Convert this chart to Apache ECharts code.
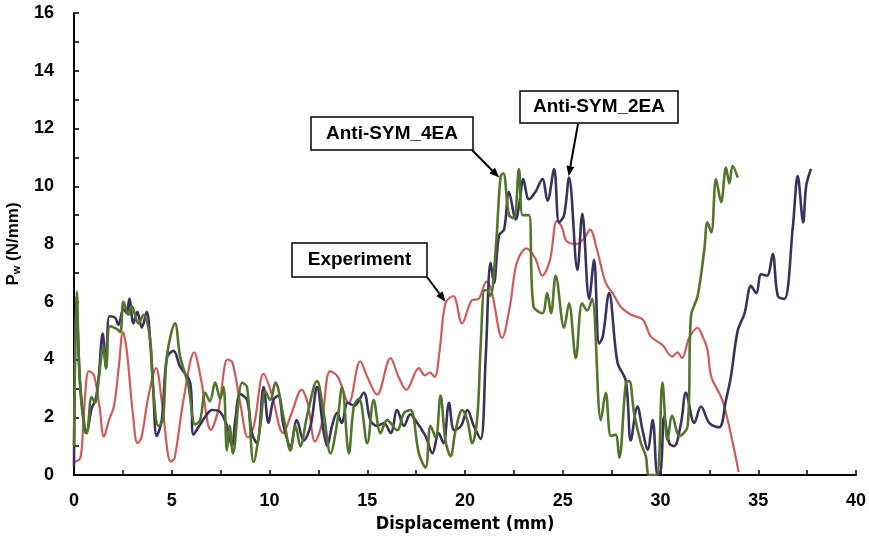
<!DOCTYPE html>
<html>
<head>
<meta charset="utf-8">
<script src="https://cdn.jsdelivr.net/npm/echarts@6/dist/echarts.min.js"></script>
<style>
  html, body { margin: 0; padding: 0; background: #fff; }
  #chart-container { width: 869px; height: 542px; }
</style>
</head>
<body>
<div id="chart-container"></div>
<script>
// values: [displacement (mm), Pw (N/mm)]
var experiment = [
  [0,0.45],[0.33,0.6],[0.5,2.1],[0.76,3.6],[1.02,3.45],[1.3,2.4],[1.53,1.33],[1.79,1.9],[2.05,2.4],
  [2.3,3.8],[2.5,4.95],[2.7,4.3],[3.0,2.2],[3.25,1.1],[3.45,1.3],[3.8,2.7],[4.2,3.7],[4.5,2.5],
  [4.95,0.46],[5.15,0.6],[5.6,2.6],[6.15,4.25],[6.5,3.3],[7.0,1.56],[7.4,2.3],[7.85,4.0],[8.1,3.9],
  [8.5,2.5],[8.9,1.3],[9.2,1.7],[9.7,3.5],[10.1,2.84],[10.7,1.45],[11.13,2.14],[11.64,2.95],
  [11.95,2.5],[12.33,1.16],[12.65,1.7],[13.1,3.6],[13.5,3.4],[14.05,2.49],[14.64,3.94],[15.0,3.4],
  [15.5,2.78],[16.19,4.05],[16.6,3.4],[17.0,2.95],[17.64,3.7],[17.95,3.45],[18.2,3.55],[18.45,3.4],
  [18.7,4.3],[19.0,5.95],[19.4,6.2],[19.85,5.25],[20.35,6.05],[20.7,6.1],[21.1,6.7],[21.35,6.4],
  [21.9,4.75],[22.3,5.85],[22.65,7.35],[23.15,7.85],[23.6,7.5],[23.95,6.9],[24.35,7.45],[24.7,8.8],
  [24.95,8.6],[25.2,8.1],[25.7,8.0],[26.1,8.2],[26.4,8.5],[26.75,7.8],[27.2,6.65],[27.55,6.3],
  [28.0,5.8],[28.5,5.55],[29.1,5.38],[29.5,4.8],[30.1,4.5],[30.6,4.1],[30.87,4.25],[31.1,4.05],
  [31.47,4.75],[31.9,5.1],[32.15,4.8],[32.4,4.35],[32.6,3.4],[33.1,2.7],[33.35,2.15],[33.7,1.1],[34.0,0.1]
];

var antiSym2EA = [
  [0,0.3],[0.12,6.2],[0.3,3.3],[0.55,1.6],[0.65,1.55],[0.9,2.3],[1.1,2.6],[1.25,3.3],[1.47,4.9],
  [1.64,3.7],[1.81,5.5],[2.1,5.45],[2.27,5.2],[2.53,5.75],[2.7,5.6],[2.83,6.1],[3.04,5.25],[3.24,5.65],
  [3.47,5.1],[3.72,5.65],[3.89,4.7],[4.05,3.0],[4.23,1.35],[4.49,1.9],[4.75,4.05],[5.09,4.3],[5.43,3.75],
  [5.94,3.2],[6.11,1.4],[6.45,1.75],[6.8,2.1],[7.05,2.25],[7.45,2.2],[7.82,1.7],[8.08,1.0],[8.25,1.9],
  [8.5,2.8],[8.85,2.6],[9.1,1.45],[9.36,1.1],[9.7,3.05],[9.95,1.8],[10.2,2.6],[10.45,2.75],[10.72,1.7],
  [11.07,1.0],[11.4,1.9],[11.75,1.2],[12.1,1.7],[12.43,3.05],[12.77,1.5],[12.95,1.0],[13.2,1.7],
  [13.46,2.15],[13.7,1.8],[14.0,2.5],[14.35,2.4],[14.82,2.85],[15.16,1.9],[15.5,1.7],[15.85,1.8],
  [16.2,1.45],[16.53,2.25],[16.88,1.7],[17.2,2.1],[17.56,1.8],[17.98,1.35],[18.33,0.75],[18.65,1.45],
  [18.9,1.1],[19.18,2.5],[19.45,1.55],[19.8,1.7],[20.12,2.25],[20.45,1.7],[20.8,1.25],[21.06,4.1],
  [21.31,7.35],[21.48,6.65],[21.74,8.3],[22.0,8.5],[22.25,9.8],[22.6,8.85],[22.8,9.5],[22.98,10.25],
  [23.27,9.55],[23.6,9.8],[23.96,10.25],[24.22,9.5],[24.56,10.6],[24.81,8.75],[25.07,9.0],[25.32,10.3],
  [25.75,7.1],[26.0,9.05],[26.35,6.1],[26.6,7.45],[26.86,4.55],[27.05,4.8],[27.37,6.3],[27.8,3.9],
  [28.23,3.25],[28.48,1.2],[28.82,2.37],[29.08,1.56],[29.34,0.87],[29.6,1.9],[29.85,0],[30.02,0.17],
  [30.19,2.03],[30.45,1.1],[30.7,1.0],[31.05,1.8],[31.3,2.85],[31.73,1.8],[32.07,2.37],[32.5,1.8],
  [33.0,1.65],[33.35,2.6],[33.6,3.4],[33.95,5.0],[34.3,5.6],[34.63,6.55],[34.9,6.3],[35.15,6.95],
  [35.45,6.9],[35.74,7.65],[36.0,6.2],[36.34,6.1],[36.77,8.6],[37.02,10.35],[37.3,8.75],[37.45,10.0],[37.7,10.6]
];

var antiSym4EA = [
  [0,1.0],[0.14,6.35],[0.3,3.2],[0.55,1.5],[0.65,1.45],[0.9,2.7],[1.08,2.5],[1.25,3.25],[1.5,4.45],
  [1.64,3.7],[1.84,5.15],[2.2,5.05],[2.37,4.95],[2.53,6.0],[2.78,5.55],[2.95,5.85],[3.3,5.25],[3.55,5.55],
  [3.89,4.7],[4.05,3.0],[4.32,1.7],[4.55,1.9],[4.75,4.1],[5.17,5.25],[5.43,4.1],[5.85,3.1],[6.2,1.75],
  [6.45,1.9],[6.71,2.85],[6.95,2.55],[7.22,3.2],[7.48,2.65],[7.65,3.05],[7.82,0.85],[7.96,1.7],[8.13,0.75],
  [8.6,3.2],[8.85,3.05],[9.19,0.45],[9.53,1.7],[9.78,2.9],[10.04,2.6],[10.3,3.2],[10.72,2.0],[11.07,0.85],
  [11.33,1.7],[11.58,1.0],[11.92,2.05],[12.43,3.25],[12.77,2.15],[13.12,0.75],[13.46,1.8],[13.71,3.05],
  [14.06,0.75],[14.32,2.4],[14.58,2.65],[15.0,1.1],[15.33,2.6],[15.68,1.45],[16.02,1.9],[16.53,1.55],
  [16.88,2.15],[17.21,2.25],[17.64,0.75],[17.98,0.25],[18.24,1.7],[18.5,1.3],[18.75,2.75],[19.0,1.2],
  [19.26,0.65],[19.52,1.55],[19.86,2.25],[20.12,1.9],[20.37,1.1],[20.63,2.0],[20.8,4.45],[21.0,6.4],
  [21.14,6.4],[21.3,6.2],[21.57,7.8],[21.82,10.35],[21.96,10.45],[22.25,9.0],[22.5,8.9],[22.76,10.6],
  [22.95,9.0],[23.27,9.0],[23.5,5.85],[23.96,5.6],[24.2,6.3],[24.4,5.6],[24.64,6.9],[25.07,5.1],
  [25.32,5.95],[25.67,4.05],[25.99,5.95],[26.25,5.7],[26.5,6.1],[26.95,1.9],[27.2,2.85],[27.46,1.35],
  [27.7,1.4],[27.89,0.6],[28.23,3.2],[28.4,3.25],[28.65,2.14],[29.0,1.1],[29.25,0.65],[29.42,0],
  [29.8,0],[30.1,3.2],[30.36,1.2],[30.6,2.05],[30.97,1.35],[31.39,1.7],[31.56,5.5],[31.9,6.2],
  [32.24,7.8],[32.4,8.75],[32.6,8.4],[32.84,10.25],[33.1,9.45],[33.35,10.65],[33.52,10.1],[33.69,10.7],[33.95,10.3]
];

var seriesNames = ["Experiment", "Anti-SYM_2EA", "Anti-SYM_4EA"];

// callouts: label, box [x, y, w, h] in px, arrow target in data units
var callouts = [
  { text: "Anti-SYM_4EA", box: [311, 117, 162, 33], from: [472, 150], to: [21.75, 10.3] },
  { text: "Anti-SYM_2EA", box: [520, 91, 158, 32], from: [578, 124], to: [25.3, 10.35] },
  { text: "Experiment", box: [292, 243, 135, 34], from: [427, 277], to: [19.0, 6.0] }
];

var dom = document.getElementById("chart-container");
var myChart = echarts.init(dom, null, { renderer: "canvas" });

var axisFont = { color: "#000", fontWeight: "bold", fontSize: 18, fontFamily: "Liberation Sans" };

var option = {
  animation: false,
  backgroundColor: "#fff",
  grid: { left: 74, right: 13, top: 13, bottom: 67, containLabel: false, outerBoundsMode: "none" },
  xAxis: {
    type: "value",
    min: 0,
    max: 40,
    interval: 2.5,
    name: "Displacement (mm)",
    nameLocation: "middle",
    nameGap: 40,
    nameTextStyle: {
      color: "#000", fontWeight: "bold", fontSize: 18,
      fontFamily: "'DejaVu Sans Condensed', 'Liberation Sans', sans-serif"
    },
    axisLine: { lineStyle: { color: "#000", width: 2 } },
    axisTick: { inside: true, length: 5, lineStyle: { color: "#000", width: 1.5 } },
    axisLabel: Object.assign({
      margin: 17,
      formatter: function (v) { return v % 5 === 0 ? String(v) : ""; }
    }, axisFont),
    splitLine: { show: false }
  },
  yAxis: {
    type: "value",
    min: 0,
    max: 16,
    interval: 1,
    name: "P{sub|w} (N/mm)",
    nameLocation: "middle",
    nameGap: 52,
    nameTextStyle: {
      color: "#000", fontWeight: "bold", fontSize: 17, fontFamily: "Liberation Sans",
      rich: {
        sub: { fontSize: 11, fontWeight: "bold", fontFamily: "Liberation Sans", color: "#000", verticalAlign: "bottom", padding: [6, 0, 0, 0] }
      }
    },
    axisLine: { lineStyle: { color: "#000", width: 2 } },
    axisTick: { inside: true, length: 5, lineStyle: { color: "#000", width: 1.5 } },
    axisLabel: Object.assign({
      margin: 20,
      formatter: function (v) { return v % 2 === 0 ? String(v) : ""; }
    }, axisFont),
    splitLine: { show: false }
  },
  series: [
    {
      name: seriesNames[0], type: "line", data: experiment, smooth: 0.35, showSymbol: false,
      lineStyle: { color: "#cd5b57", width: 2.2 }, z: 2
    },
    {
      name: seriesNames[1], type: "line", data: antiSym2EA, smooth: 0.35, showSymbol: false,
      lineStyle: { color: "#3b3160", width: 2.6 }, z: 3
    },
    {
      name: seriesNames[2], type: "line", data: antiSym4EA, smooth: 0.35, showSymbol: false,
      lineStyle: { color: "#52752c", width: 2.6 }, z: 4
    }
  ]
};

myChart.setOption(option);

// boxes and arrows, arrow tips placed through the chart's own scales
var graphics = [];
callouts.forEach(function (c) {
  var tip = myChart.convertToPixel({ gridIndex: 0 }, c.to);
  var dx = tip[0] - c.from[0], dy = tip[1] - c.from[1];
  var len = Math.sqrt(dx * dx + dy * dy);
  var ux = dx / len, uy = dy / len;
  var headLen = 10, headW = 4;
  var bx = tip[0] - ux * headLen, by = tip[1] - uy * headLen;
  graphics.push({
    type: "line", z: 10,
    shape: { x1: c.from[0], y1: c.from[1], x2: bx, y2: by },
    style: { stroke: "#000", lineWidth: 2 }
  });
  graphics.push({
    type: "polygon", z: 10,
    shape: { points: [tip, [bx - uy * headW, by + ux * headW], [bx + uy * headW, by - ux * headW]] },
    style: { fill: "#000" }
  });
  graphics.push({
    type: "rect", z: 11,
    shape: { x: c.box[0], y: c.box[1], width: c.box[2], height: c.box[3] },
    style: { fill: "#fff", stroke: "#000", lineWidth: 1.5 }
  });
  graphics.push({
    type: "text", z: 12,
    x: c.box[0] + c.box[2] / 2, y: c.box[1] + c.box[3] / 2,
    style: {
      text: c.text, fill: "#000", fontSize: 19, fontWeight: "bold", fontFamily: "Liberation Sans",
      align: "center", verticalAlign: "middle"
    }
  });
});
myChart.setOption({ graphic: graphics });

window.addEventListener("resize", myChart.resize);
</script>
</body>
</html>
